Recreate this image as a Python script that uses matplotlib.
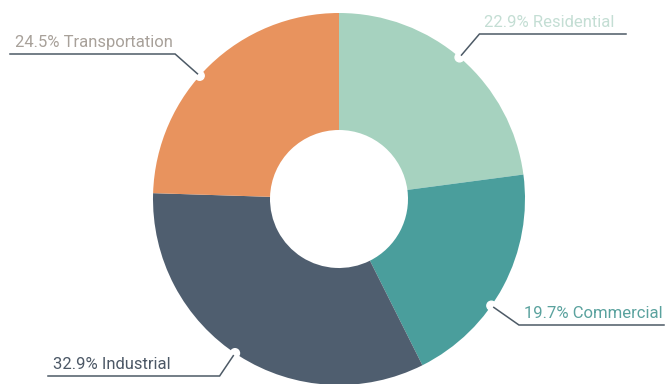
import numpy as np
import matplotlib
matplotlib.use("Agg")
import matplotlib.pyplot as plt
from matplotlib.patches import Circle


# ==========================================
# Data
# ==========================================

SECTORS = ["Residential", "Commercial", "Industrial", "Transportation"]
SHARES = [22.9, 19.7, 32.9, 24.5]

SLICE_COLORS = ["#a6d2bf", "#4a9e9c", "#4f5e6f", "#e8935e"]
TEXT_COLORS = ["#c4ded4", "#5aa29e", "#4c5866", "#a8a19a"]
LINE_COLOR = "#4d5a66"


# ==========================================
# Layout (pixels, y up)
# ==========================================

W, H = 665, 384
CENTER = (339, 185)
R_OUT = 186
R_IN = 69

# angle of each call-out notch (deg), underline y, far end of underline
CALLOUT_ANGLE = [49.6, -35.0, -124.0, 138.5]
UNDERLINE_Y = [350, 59, 8, 330]
UNDERLINE_END_X = [626, 664, 48, 10]

plt.rcParams["font.family"] = ["Roboto", "DejaVu Sans"]

fig = plt.figure(figsize=(W / 100, H / 100), dpi=100)
ax = fig.add_axes([0, 0, 1, 1])

wedges, _ = ax.pie(
    SHARES,
    colors=SLICE_COLORS,
    startangle=90,
    counterclock=False,
    center=CENTER,
    radius=R_OUT,
    wedgeprops=dict(width=R_OUT - R_IN, linewidth=0),
)

for i, name in enumerate(SECTORS):
    a = np.deg2rad(CALLOUT_ANGLE[i])
    ca, sa = np.cos(a), np.sin(a)

    # small notch cut into the outer edge
    nx = CENTER[0] + R_OUT * ca
    ny = CENTER[1] + R_OUT * sa
    ax.add_patch(Circle((nx, ny), 4.5, color="white", zorder=3))

    # radial leg up to the underline
    r_start = R_OUT + 3
    sx = CENTER[0] + r_start * ca
    sy = CENTER[1] + r_start * sa
    r_elbow = (UNDERLINE_Y[i] - CENTER[1]) / sa
    ex = CENTER[0] + r_elbow * ca
    ey = UNDERLINE_Y[i]
    x_end = UNDERLINE_END_X[i]

    ax.plot([sx, ex, x_end], [sy, ey, ey], color=LINE_COLOR, lw=1.1,
            solid_joinstyle="miter", zorder=4)

    label = f"{SHARES[i]:.1f}% {name}"
    left = min(ex, x_end)
    ax.text(left + 5, ey + 7, label, ha="left", va="baseline",
            fontsize=12, color=TEXT_COLORS[i], zorder=5)

ax.set_xlim(0, W)
ax.set_ylim(0, H)
ax.set_aspect("equal")
ax.axis("off")

fig.savefig("out.png", dpi=100, facecolor="white")
